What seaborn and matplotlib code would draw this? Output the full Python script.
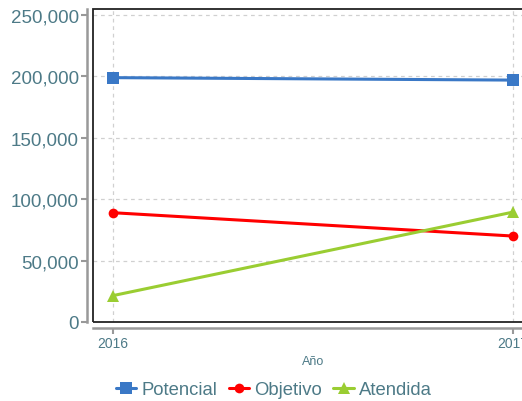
import numpy as np
import pandas as pd
import matplotlib
matplotlib.use("Agg")
import matplotlib.pyplot as plt
import matplotlib.ticker as mticker
from matplotlib.patches import Rectangle
import seaborn as sns

# data
years = [2016, 2017]
potencial = [199000, 197000]
objetivo = [89000, 70000]
atendida = [21500, 89500]

series_names = ["Potencial", "Objetivo", "Atendida"]
series_vals = [potencial, objetivo, atendida]
colors = ["#3a78c6", "#ff0000", "#9acd32"]
markers = ["s", "o", "^"]

sns.set_theme(style="white")
plt.rcParams["font.family"] = ["Liberation Sans", "DejaVu Sans"]
txt = "#4d7a87"

fig = plt.figure(figsize=(5.22, 4.02), dpi=100)
ax = fig.add_axes([93 / 522, 79 / 402, 440 / 522, 313 / 402])

for name, vals, c, m in zip(series_names, series_vals, colors, markers):
    df = pd.DataFrame({"year": years, "value": vals})
    sns.lineplot(data=df, x="year", y="value", ax=ax, color=c, marker=m,
                 markersize=8 if m != "o" else 7, markeredgewidth=0,
                 linewidth=2.2, label=name)

ax.set_xlim(2015.95, 2017.05)
ax.set_ylim(0, 254900)
ax.set_xticks(years)
ax.set_yticks([0, 50000, 100000, 150000, 200000, 250000])
ax.yaxis.set_major_formatter(mticker.FuncFormatter(lambda v, p: f"{int(v):,}"))

ax.grid(True, color="#d0d0d0", linestyle=(0, (3, 3)), linewidth=0.9)
ax.set_axisbelow(True)

for s in ["top", "right"]:
    ax.spines[s].set_visible(False)
for s in ["left", "bottom"]:
    ax.spines[s].set_position(("outward", 4.3))
    ax.spines[s].set_color("#999999")
    ax.spines[s].set_linewidth(1.8)
ax.add_patch(Rectangle((0, 0), 1, 1, transform=ax.transAxes, fill=False,
                       edgecolor="#222222", linewidth=1.3, clip_on=False, zorder=5))

ax.tick_params(axis="y", labelsize=13.5, colors="#999999", labelcolor=txt,
               length=4, width=1.5, left=True, pad=2)
ax.tick_params(axis="x", labelsize=10, colors="#999999", labelcolor=txt,
               length=4, width=1.5, bottom=True, pad=1.5)
ax.set_xlabel("Año", fontsize=9, color=txt, labelpad=4)
ax.set_ylabel("")

handles, labels = ax.get_legend_handles_labels()
ax.legend_.remove()
fig.legend(handles, labels, loc="center", bbox_to_anchor=(274 / 522, 1 - 391 / 402),
           ncol=3, frameon=False, fontsize=13.3, labelcolor=txt,
           handlelength=1.1, handletextpad=0.3, columnspacing=0.6,
           borderpad=0.2)

fig.savefig("out.png", dpi=100)
